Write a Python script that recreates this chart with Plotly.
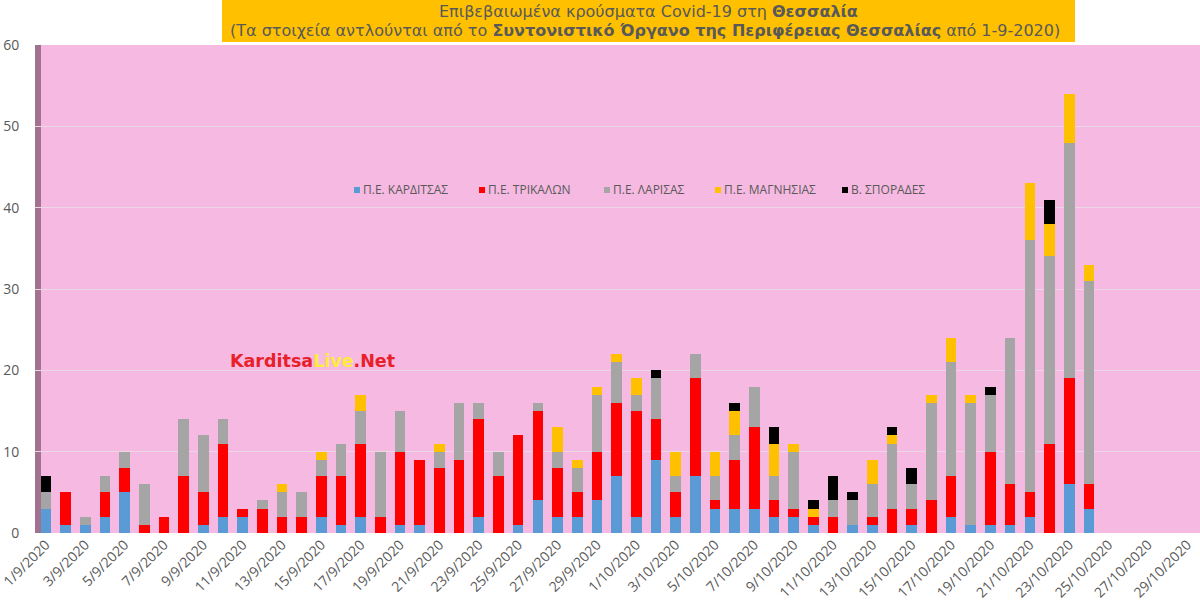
import pandas as pd
import plotly.graph_objects as go

# categories: every day from 1/9 to 31/10/2020
days = pd.date_range("2020-09-01", "2020-10-31", freq="D")
dates = [f"{d.day}/{d.month}/{d.year}" for d in days]

# confirmed cases per regional unit, 1/9 .. 24/10
karditsa = [3, 1, 1, 2, 5, 0, 0, 0, 1, 2, 2, 0, 0, 0, 2, 1, 2, 0, 1, 1, 0, 0, 2, 0, 1, 4, 2,
            2, 4, 7, 2, 9, 2, 7, 3, 3, 3, 2, 2, 1, 0, 1, 1, 0, 1, 0, 2, 1, 1, 1, 2, 0, 6, 3]
trikala = [0, 4, 0, 3, 3, 1, 2, 7, 4, 9, 1, 3, 2, 2, 5, 6, 9, 2, 9, 8, 8, 9, 12, 7, 11, 11, 6,
           3, 6, 9, 13, 5, 3, 12, 1, 6, 10, 2, 1, 1, 2, 0, 1, 3, 2, 4, 5, 0, 9, 5, 3, 11, 13, 3]
larisa = [2, 0, 1, 2, 2, 5, 0, 7, 7, 3, 0, 1, 3, 3, 2, 4, 4, 8, 5, 0, 2, 7, 2, 3, 0, 1, 2,
          3, 7, 5, 2, 5, 2, 3, 3, 3, 5, 3, 7, 0, 2, 3, 4, 8, 3, 12, 14, 15, 7, 18, 31, 23, 29, 25]
magnisia = [0, 0, 0, 0, 0, 0, 0, 0, 0, 0, 0, 0, 1, 0, 1, 0, 2, 0, 0, 0, 1, 0, 0, 0, 0, 0, 3,
            1, 1, 1, 2, 0, 3, 0, 3, 3, 0, 4, 1, 1, 0, 0, 3, 1, 0, 1, 3, 1, 0, 0, 7, 4, 6, 2]
sporades = [2, 0, 0, 0, 0, 0, 0, 0, 0, 0, 0, 0, 0, 0, 0, 0, 0, 0, 0, 0, 0, 0, 0, 0, 0, 0, 0,
            0, 0, 0, 0, 1, 0, 0, 0, 1, 0, 2, 0, 1, 3, 1, 0, 1, 2, 0, 0, 0, 1, 0, 0, 3, 0, 0]

series = [
    ("Π.Ε. ΚΑΡΔΙΤΣΑΣ", karditsa, "#5B9BD5"),
    ("Π.Ε. ΤΡΙΚΑΛΩΝ", trikala, "#FF0000"),
    ("Π.Ε. ΛΑΡΙΣΑΣ", larisa, "#A5A5A5"),
    ("Π.Ε. ΜΑΓΝΗΣΙΑΣ", magnisia, "#FFC000"),
    ("Β. ΣΠΟΡΑΔΕΣ", sporades, "#000000"),
]

W, H = 1200, 615
ML, MT, MB = 35, 45, 82
plot_w = W - ML
plot_h = H - MT - MB
px_per_day = 19.68
x0 = -0.55


def px_x(p):
    return (p - ML) / plot_w


def px_y(p):
    return (H - MB - p) / plot_h


fig = go.Figure()
for name, vals, color in series:
    fig.add_trace(go.Bar(
        x=dates[:len(vals)], y=vals, name=name,
        marker=dict(color=color, line=dict(width=0)),
    ))

txt = "#595959"
fig.update_layout(
    width=W, height=H,
    margin=dict(l=ML, r=0, t=MT, b=MB),
    barmode="stack", bargap=0.46,
    paper_bgcolor="white", plot_bgcolor="#F6B9E1",
    font=dict(family="Open Sans", color=txt),
    showlegend=False,
    xaxis=dict(type="category", categoryorder="array", categoryarray=dates,
               range=[x0, x0 + plot_w / px_per_day], automargin=False,
               tickvals=dates[::2], ticktext=dates[::2], tickangle=-45,
               tickfont=dict(size=14, color=txt), showgrid=False, zeroline=False,
               showline=False, ticks=""),
    yaxis=dict(range=[0, 60], dtick=10, tickfont=dict(size=14, color=txt), automargin=False,
               gridcolor="#EBD6E6", gridwidth=1, zeroline=False, showline=False,
               ticks="outside", ticklen=12, tickcolor="rgba(0,0,0,0)"),
)

# left wall of the 3D plot area
fig.add_shape(type="rect", xref="paper", yref="paper", x0=0, x1=6 / plot_w, y0=0, y1=1,
              fillcolor="#A07290", line=dict(width=0), layer="below")

# legend drawn by hand (square right next to the text)
legend_x = [357, 482, 607, 718, 845]
for (name, _, color), lx in zip(series, legend_x):
    fig.add_shape(type="rect", xref="paper", yref="paper",
                  x0=px_x(lx - 3), x1=px_x(lx + 3), y0=px_y(193), y1=px_y(187),
                  fillcolor=color, line=dict(width=0))
    fig.add_annotation(xref="paper", yref="paper", x=px_x(lx + 4), y=px_y(190), text=name,
                       showarrow=False, xanchor="left", yanchor="middle",
                       font=dict(size=12, color=txt))

# title box
fig.add_shape(type="rect", xref="paper", yref="paper",
              x0=px_x(222), x1=px_x(1075), y0=px_y(42), y1=px_y(0),
              fillcolor="#FFC000", line=dict(width=0))
fig.add_annotation(xref="paper", yref="paper", x=px_x(648), y=px_y(12),
                   text="Επιβεβαιωμένα κρούσματα Covid-19 στη <b>Θεσσαλία</b>",
                   showarrow=False, font=dict(family="DejaVu Sans", size=16, color=txt),
                   xanchor="center", yanchor="middle")
fig.add_annotation(xref="paper", yref="paper", x=px_x(645), y=px_y(31),
                   text="(Τα στοιχεία αντλούνται από το <b>Συντονιστικό Όργανο της Περιφέρειας "
                        "Θεσσαλίας</b> από 1-9-2020)",
                   showarrow=False, font=dict(family="DejaVu Sans", size=16, color=txt),
                   xanchor="center", yanchor="middle")

# watermark
fig.add_annotation(xref="paper", yref="paper", x=px_x(228), y=px_y(361),
                   text="<b>Karditsa<span style='color:#FFEB3B'>Live</span>.Net</b>",
                   showarrow=False, font=dict(family="DejaVu Sans", size=17.5, color="#E8202A"),
                   xanchor="left", yanchor="middle")

# drop the default 8px page margin so the figure sits at the window's corner
fig.write_html("out.html", config={"displayModeBar": False},
               post_script="document.body.style.margin='0';")
